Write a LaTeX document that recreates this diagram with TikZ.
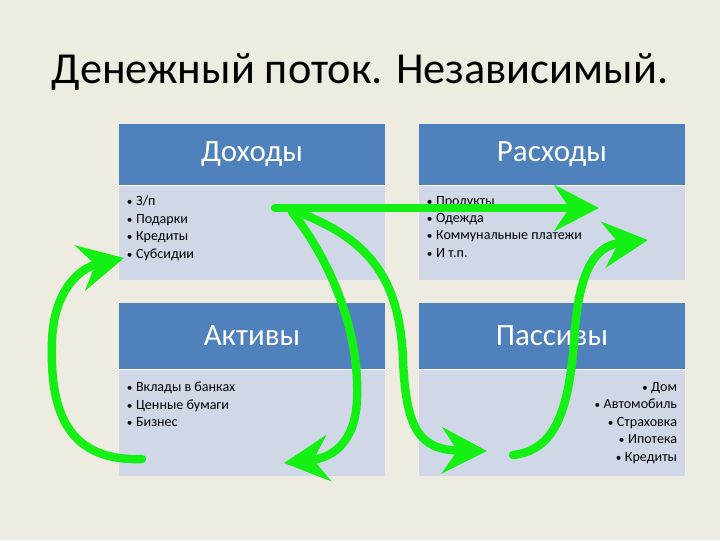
\documentclass[tikz,border=0pt]{standalone}
\usepackage{fontspec}
\setmainfont{Carlito}
\usepackage{tikz}
\usetikzlibrary{arrows.meta,positioning}
\definecolor{slidebg}{RGB}{238,235,225}
\definecolor{hdrblue}{RGB}{79,129,189}
\definecolor{bodyblue}{RGB}{208,216,232}
\definecolor{flowgreen}{RGB}{20,240,20}
\newcommand{\bitem}{{\footnotesize\textbullet}\hspace{2.5pt}}
\tikzset{
  hdrbox/.style={fill=hdrblue, text=white, minimum width=6.65cm, inner sep=0pt, font=\fontsize{22}{24}\selectfont},
  bodybox/.style={fill=bodyblue, minimum width=6.65cm, inner sep=0pt},
  listtxt/.style={inner sep=0pt, font=\fontsize{10}{12.4}\selectfont},
  flow/.style={draw=flowgreen, line width=0.21cm, line cap=round,
    -{Stealth[length=1.12cm, width=1.15cm, inset=0.38cm]}}
}

\begin{document}
\begin{tikzpicture}[x=0.025cm, y=-0.025cm]
  \useasboundingbox[fill=slidebg] (0,0) rectangle (720,540);
  \node[font=\fontsize{31.5}{36}\selectfont] (title) at (360,72) {Денежный поток. Независимый.};

  % upper row
  \node[hdrbox, minimum height=1.525cm] (dohody) at (252,154.5) {Доходы};
  \node[bodybox, minimum height=2.35cm, below=0pt of dohody] (dohodyb) {};
  \node[hdrbox, minimum height=1.525cm] (rashody) at (552,154.5) {Расходы};
  \node[bodybox, minimum height=2.35cm, below=0pt of rashody] (rashodyb) {};

  % lower row
  \node[hdrbox, minimum height=1.65cm] (aktivy) at (252,336) {Активы};
  \node[bodybox, minimum height=2.65cm, below=0pt of aktivy] (aktivyb) {};
  \node[hdrbox, minimum height=1.65cm] (passivy) at (552,336) {Пассивы};
  \node[bodybox, minimum height=2.65cm, below=0pt of passivy] (passivyb) {};

  \draw[white, line width=0.4pt] (dohody.south west) -- (dohody.south east);
  \draw[white, line width=0.4pt] (rashody.south west) -- (rashody.south east);
  \draw[white, line width=0.4pt] (aktivy.south west) -- (aktivy.south east);
  \draw[white, line width=0.4pt] (passivy.south west) -- (passivy.south east);

  % lists
  \node[listtxt, align=left, anchor=north west, below right=0.26cm and 0.2cm of dohodyb.north west] (dohodyl)
    {\bitem З/п\\ \bitem Подарки\\ \bitem Кредиты\\ \bitem Субсидии};
  \node[listtxt, align=left, anchor=north west, below right=0.26cm and 0.2cm of rashodyb.north west] (rashodyl)
    {\bitem Продукты\\ \bitem Одежда\\ \bitem Коммунальные платежи\\ \bitem И т.п.};
  \node[listtxt, align=left, anchor=north west, below right=0.32cm and 0.2cm of aktivyb.north west] (aktivyl)
    {\bitem Вклады в банках\\ \bitem Ценные бумаги\\ \bitem Бизнес};
  \node[listtxt, align=right, anchor=north east, below left=0.32cm and 0.2cm of passivyb.north east] (passivyl)
    {\bitem Дом\\ \bitem Автомобиль\\ \bitem Страховка\\ \bitem Ипотека\\ \bitem Кредиты};

  % money flow
  \coordinate (inc) at (275,208);
  \coordinate (incA) at (292,212);
  \coordinate (incB) at (300,213);
  \coordinate (exp) at (599,208);
  \coordinate (expB) at (648,240);
  \coordinate (ast) at (284,463);
  \coordinate (astL) at (142,459);
  \coordinate (lia) at (487,451);
  \coordinate (liaR) at (513,455);
  \coordinate (incL) at (124,258);

  \draw[flow] (inc) -- (exp);
  \draw[flow] (incA) .. controls (330,260) and (360,330) .. (357,400)
    .. controls (355,445) and (330,458) .. (ast);
  \draw[flow] (incB) .. controls (370,240) and (400,280) .. (403,360)
    .. controls (406,430) and (420,450) .. (lia);
  \draw[flow] (astL) .. controls (60,462) and (50,400) .. (52,340)
    .. controls (54,290) and (80,268) .. (incL);
  \draw[flow] (liaR) .. controls (560,450) and (570,400) .. (575,330)
    .. controls (580,262) and (600,245) .. (expB);
\end{tikzpicture}
\end{document}
